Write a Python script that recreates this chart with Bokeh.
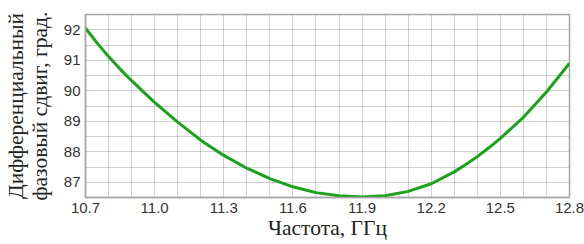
from bokeh.plotting import figure
from bokeh.models import FixedTicker, SingleIntervalTicker, Range1d, NumeralTickFormatter
from bokeh.embed import file_html
from bokeh.resources import INLINE

freq = [10.7, 10.75, 10.8, 10.85, 10.9, 10.95, 11.0, 11.1, 11.2, 11.3, 11.4, 11.5, 11.6, 11.7,
        11.8, 11.9, 12.0, 12.1, 12.2, 12.3, 12.35, 12.4, 12.45, 12.5, 12.6, 12.7, 12.8]
phase = [92.05, 91.57, 91.12, 90.71, 90.33, 89.97, 89.62, 88.97, 88.38, 87.88, 87.46, 87.12, 86.85, 86.66,
         86.56, 86.52, 86.56, 86.70, 86.95, 87.34, 87.58, 87.84, 88.13, 88.44, 89.13, 89.96, 90.90]
x_ticks = [10.7, 11.0, 11.3, 11.6, 11.9, 12.2, 12.5, 12.8]
y_ticks = [87, 88, 89, 90, 91, 92]
x_title = "Частота, ГГц"
y_title = "Дифференциальный\nфазовый сдвиг, град."

p = figure(width=584, height=244, output_backend="svg", toolbar_location=None,
           x_range=Range1d(10.7, 12.8), y_range=Range1d(86.5, 92.5),
           min_border_left=82, min_border_right=15, min_border_top=14, min_border_bottom=47)
p.background_fill_color = "white"
p.border_fill_color = "white"
p.outline_line_color = "#a8a8a8"
p.outline_line_width = 1.5

p.line(freq, phase, line_color="#1aa31a", line_width=3, line_join="round")

p.xaxis.ticker = FixedTicker(ticks=x_ticks)
p.yaxis.ticker = FixedTicker(ticks=y_ticks)
p.xaxis.formatter = NumeralTickFormatter(format="0.0")
p.yaxis.formatter = NumeralTickFormatter(format="0")
p.xgrid.ticker = SingleIntervalTicker(interval=0.1)
p.ygrid.ticker = SingleIntervalTicker(interval=0.5)
for g in (p.xgrid, p.ygrid):
    g.grid_line_color = "#a0a0a0"
    g.grid_line_dash = "1 1"
    g.grid_line_width = 1

for ax in (p.xaxis, p.yaxis):
    ax.axis_line_color = "#a8a8a8"
    ax.axis_line_width = 1.5
    ax.major_tick_out = 0
    ax.major_tick_in = 0
    ax.minor_tick_out = 0
    ax.minor_tick_in = 0
    ax.major_label_text_font = "Liberation Sans"
    ax.major_label_text_font_size = "15px"
    ax.major_label_text_color = "#333333"
    ax.axis_label_text_font = "Liberation Serif"
    ax.axis_label_text_font_size = "21.5px"
    ax.axis_label_text_font_style = "normal"
    ax.axis_label_text_color = "#222222"
    ax.axis_label_text_line_height = 1.0

p.xaxis.major_label_standoff = 5
p.yaxis.major_label_standoff = 5
p.xaxis.axis_label = x_title
p.xaxis.axis_label_standoff = 0
p.yaxis.axis_label = y_title
p.yaxis.axis_label_standoff = 9

open("out.html", "w").write(file_html(p, INLINE))
